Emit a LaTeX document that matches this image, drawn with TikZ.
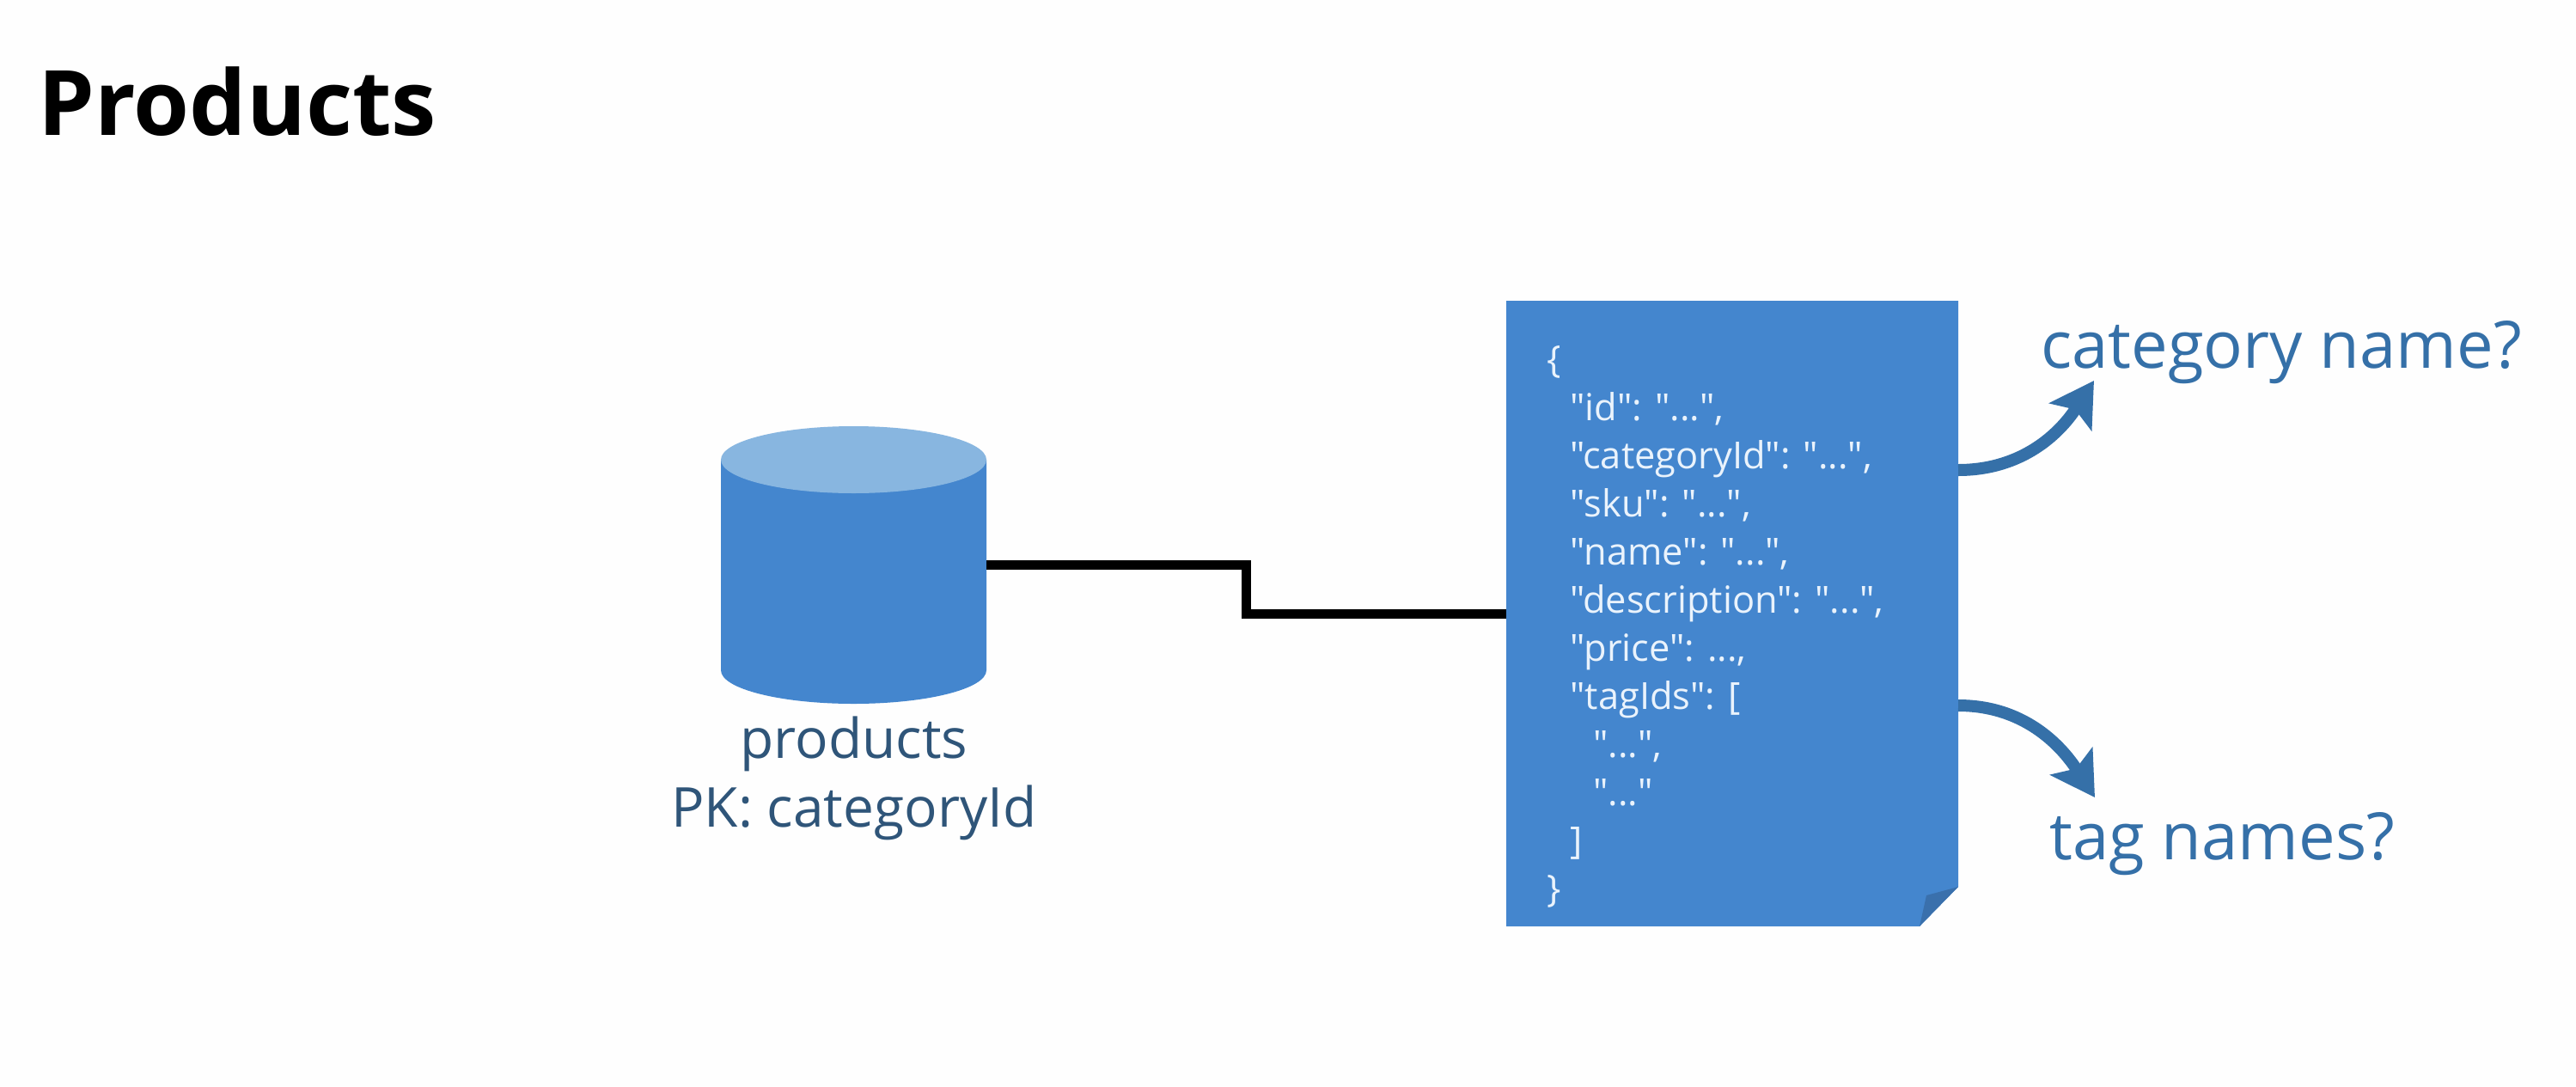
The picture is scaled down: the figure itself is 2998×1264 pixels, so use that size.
\documentclass[tikz,border=0pt]{standalone}
\usepackage{fontspec}
\setmainfont{Open Sans}
\newfontfamily\jsonfont{Open Sans}
\usetikzlibrary{arrows.meta}
\definecolor{bgc}{HTML}{FEFEFE}
\definecolor{shapeblue}{HTML}{4486CE}
\definecolor{topblue}{HTML}{88B6E0}
\definecolor{foldblue}{HTML}{3A70AC}
\definecolor{arrowblue}{HTML}{3570A8}
\definecolor{labelnavy}{HTML}{2F5579}
\definecolor{jsonwhite}{HTML}{EAF3FC}
\tikzset{
  anchorbox/.style={inner sep=0pt,outer sep=0pt,minimum width=#1},
  bluelabel/.style={text=arrowblue,font=\fontsize{38}{46}\selectfont,inner sep=0pt,anchor=base west},
  curvearrow/.style={draw=arrowblue,line width=7pt,-{Stealth[length=25pt,width=29pt,inset=5pt]}},
  linkline/.style={draw=black,line width=5.5pt,line join=miter}
}
\begin{document}
\begin{tikzpicture}[x=0.5pt,y=-0.5pt]
\useasboundingbox (0,0) rectangle (2998,1264);
\fill[bgc] (0,0) rectangle (2998,1264);
% title
\node[anchor=base west,inner sep=0pt,font=\fontsize{52.5}{60}\selectfont\bfseries,text=black] (title) at (44,157) {Products};
% cylinder
\node[anchorbox=154.5pt,minimum height=161.5pt] (db) at (993.5,657.5) {};
\fill[shapeblue] (839,535) -- (839,780) arc[start angle=180,end angle=0,x radius=154.5,y radius=39] -- (1148,535) -- cycle;
\fill[topblue] (993.5,535) ellipse [x radius=154.5,y radius=39];
\node[anchor=base,inner sep=0pt,align=center,text=labelnavy,font=\fontsize{32}{40}\selectfont] (dblabel) at (994,962) {products\\PK: categoryId};
% document
\node[anchorbox=263pt,minimum height=364pt] (doc) at (2016,714) {};
\fill[shapeblue] (1753,350) -- (2279,350) -- (2279,1032) -- (2234,1078) -- (1753,1078) -- cycle;
\fill[foldblue] (2279,1032) -- (2234,1078) -- (2242,1042) -- cycle;
\node[anchor=base west,inner sep=0pt,align=left,text=jsonwhite,font=\jsonfont\fontsize{21.7}{28}\selectfont] (json) at (1800,1049) {%
\{\\
\hspace*{13.5pt}"id": "...",\\
\hspace*{13.5pt}"categoryId": "...",\\
\hspace*{13.5pt}"sku": "...",\\
\hspace*{13.5pt}"name": "...",\\
\hspace*{13.5pt}"description": "...",\\
\hspace*{13.5pt}"price": ...,\\
\hspace*{13.5pt}"tagIds": [\\
\hspace*{27pt}"...",\\
\hspace*{27pt}"..."\\
\hspace*{13.5pt}]\\
\}};
% connector
\coordinate (bend) at (1450,714);
\draw[linkline] (db.east) -| (bend) -- (doc.west);
% labels and arrows
\node[bluelabel] (cat) at (2375,428) {category name?};
\node[bluelabel] (tag) at (2385,1000) {tag names?};
\coordinate (cattip) at (2437,443);
\coordinate (tagtip) at (2438,928);
\draw[curvearrow] ([yshift=83.5pt]doc.east) to[out=0,in=237] (cattip);
\draw[curvearrow] ([yshift=-53.5pt]doc.east) to[out=0,in=123] (tagtip);
\end{tikzpicture}
\end{document}
